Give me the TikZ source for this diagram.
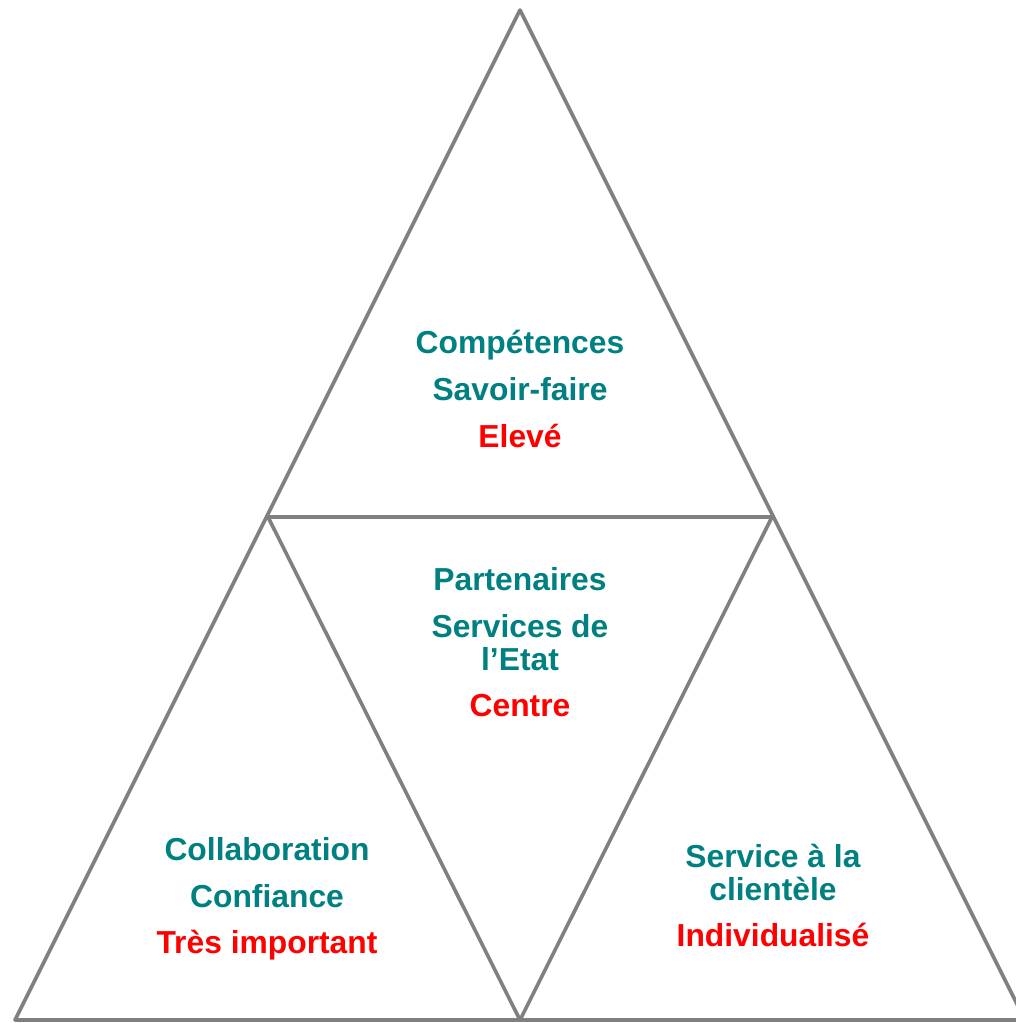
\documentclass[tikz,border=0pt]{standalone}
\usepackage{fontspec}
\setmainfont{Liberation Sans}
\usepackage{xcolor}
\usepackage{tikz}
\definecolor{edge}{HTML}{808080}
\definecolor{teal}{HTML}{008080}
\definecolor{hot}{HTML}{FF0000}
\tikzset{
  side/.style={draw=edge, line width=3.6pt, line join=round},
  labt/.style={text=teal, font=\fontsize{31.8}{34}\selectfont\bfseries, anchor=base, inner sep=0pt},
  labr/.style={text=hot, font=\fontsize{31.8}{34}\selectfont\bfseries, anchor=base, inner sep=0pt}
}
\begin{document}
\begin{tikzpicture}[x=1pt,y=-1pt]
  \useasboundingbox (0,0) rectangle (1016,1023);
  \coordinate (A) at (520,10);
  \coordinate (ML) at (268,517);
  \coordinate (MR) at (772,517);
  \coordinate (BL) at (15,1020);
  \coordinate (BM) at (520,1020);
  \coordinate (BR) at (1025,1020);

  % big triangle and the inverted middle one
  \draw[side] (A)--(BL)--(BR)--cycle;
  \draw[side] (ML)--(MR)--(BM)--cycle;

  % top
  \node[labt] (comp) at (520,353) {Compétences};
  \node[labt] (savoir) at (520,400) {Savoir-faire};
  \node[labr] (eleve) at (520,447) {Elevé};
  % middle
  \node[labt] (part) at (520,590) {Partenaires};
  \node[labt] (serv) at (520,637) {Services de};
  \node[labt] (etat) at (520,670) {l’Etat};
  \node[labr] (centre) at (520,716) {Centre};
  % left
  \node[labt] (collab) at (267,860) {Collaboration};
  \node[labt] (conf) at (267,907) {Confiance};
  \node[labr] (tres) at (267,953) {Très important};
  % right
  \node[labt] (client1) at (773,867) {Service à la};
  \node[labt] (client2) at (773,900) {clientèle};
  \node[labr] (indiv) at (773,946) {Individualisé};
\end{tikzpicture}
\end{document}
